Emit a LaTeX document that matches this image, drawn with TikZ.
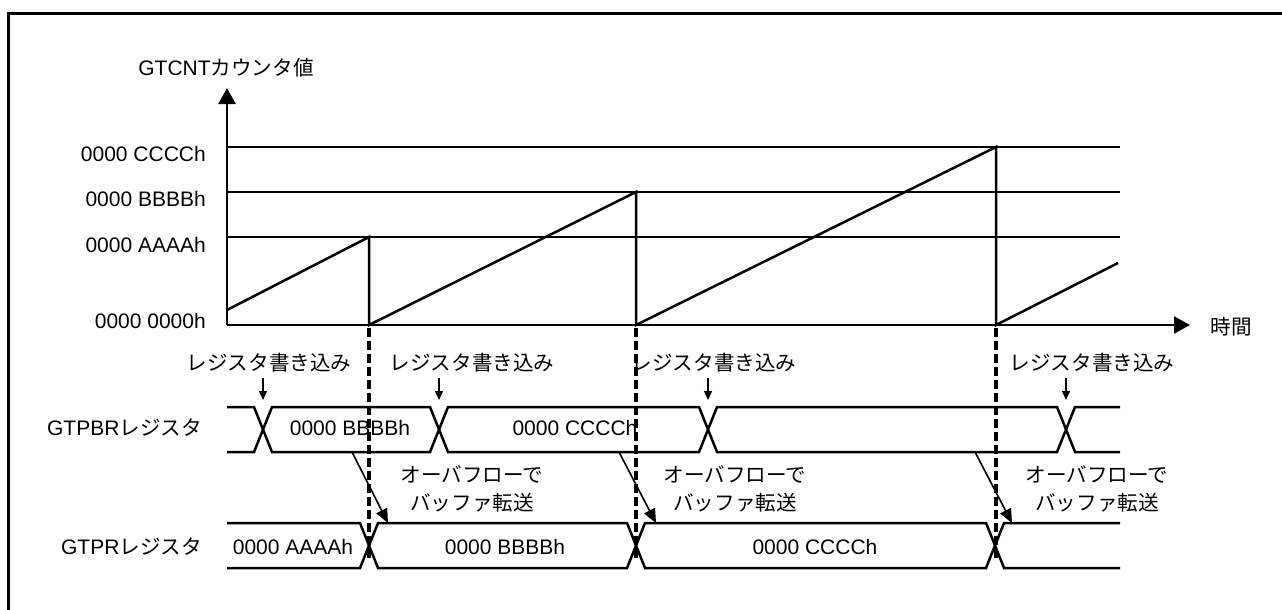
\documentclass[tikz,border=0pt]{standalone}
\usepackage{fontspec}
\setmainfont{Liberation Sans}
\newfontfamily\jpf[Scale=0.98]{Noto Sans CJK JP}
\newcommand{\jp}[1]{{\jpf #1}}
\usetikzlibrary{arrows.meta}
\begin{document}
\begin{tikzpicture}[x=1pt,y=-1pt,
  every node/.style={inner sep=0pt, font=\fontsize{21}{28}\selectfont},
  ln/.style={line width=2.5pt},
  axisarrow/.style={ln, -{Triangle[length=16pt,width=17pt]}},
  dashv/.style={line width=3.2pt, dash pattern=on 9pt off 4pt},
  wrarrow/.style={line width=1.5pt, -{Triangle[length=9pt,width=8pt]}},
  xfer/.style={line width=1.6pt, -{Triangle[length=14pt,width=12pt]}},
  lbl/.style={anchor=east},
  xlbl/.style={align=center}
]
\useasboundingbox (0,0) rectangle (1282,610);
% frame
\draw[line width=2.8pt] (8.5,610) -- (8.5,13.5) -- (1282,13.5);

% axes
\coordinate (O) at (227,325);
\coordinate (ytop) at (227,88);
\coordinate (xend) at (1190,325);
\draw[axisarrow] (O) -- (ytop);
\draw[axisarrow] (O) -- (xend);
\node (title) at (226,68) {GTCNT\jp{カウンタ値}};
\node (time) at (1231,327) {\jp{時間}};

% level lines
\coordinate (c0) at (227,147); \coordinate (c1) at (1120,147);
\coordinate (b0) at (227,192); \coordinate (b1) at (1120,192);
\coordinate (a0) at (227,237); \coordinate (a1) at (1120,237);
\draw[ln] (c0) -- (c1);
\draw[ln] (b0) -- (b1);
\draw[ln] (a0) -- (a1);
\node[lbl] (lc) at (206,154) {0000 CCCCh};
\node[lbl] (lb) at (206,199) {0000 BBBBh};
\node[lbl] (la) at (206,245) {0000 AAAAh};
\node[lbl] (lz) at (206,321) {0000 0000h};

% sawtooth
\draw[ln] (227,310) -- (369,237) -- (369,325) -- (636,192) -- (636,325)
  -- (996,147) -- (996,325) -- (1118,263);

% dashed overflow markers
\coordinate (d1a) at (369,328); \coordinate (d1b) at (369,560);
\coordinate (d2a) at (636,328); \coordinate (d2b) at (636,560);
\coordinate (d3a) at (996,328); \coordinate (d3b) at (996,560);
\draw[dashv] (d1a) -- (d1b);
\draw[dashv] (d2a) -- (d2b);
\draw[dashv] (d3a) -- (d3b);

% GTPBR bus
\draw[ln] (227,407) -- (254,407) -- (272,452) -- (430,452) -- (448,407) -- (699,407)
  -- (717,452) -- (1057,452) -- (1075,407) -- (1120,407);
\draw[ln] (227,452) -- (254,452) -- (272,407) -- (430,407) -- (448,452) -- (699,452)
  -- (717,407) -- (1057,407) -- (1075,452) -- (1120,452);
\node[lbl] (pbr) at (202,428) {GTPBR\jp{レジスタ}};
\node (pbrB) at (350,428) {0000 BBBBh};
\node (pbrC) at (575,428) {0000 CCCCh};

% GTPR bus
\draw[ln] (227,523) -- (360,523) -- (378,568) -- (627,568) -- (645,523) -- (986,523)
  -- (1004,568) -- (1120,568);
\draw[ln] (227,568) -- (360,568) -- (378,523) -- (627,523) -- (645,568) -- (986,568)
  -- (1004,523) -- (1120,523);
\node[lbl] (pr) at (202,547) {GTPR\jp{レジスタ}};
\node (prA) at (293,547) {0000 AAAAh};
\node (prB) at (505,547) {0000 BBBBh};
\node (prC) at (815,547) {0000 CCCCh};

% register write labels
\node (w1) at (269,363) {\jp{レジスタ書き込み}};
\node (w2) at (472,363) {\jp{レジスタ書き込み}};
\node (w3) at (714,363) {\jp{レジスタ書き込み}};
\node (w4) at (1092,363) {\jp{レジスタ書き込み}};
\coordinate (w1s) at (263,378); \coordinate (w1e) at (263,400);
\coordinate (w2s) at (439,378); \coordinate (w2e) at (439,400);
\coordinate (w3s) at (708,378); \coordinate (w3e) at (708,400);
\coordinate (w4s) at (1066,378); \coordinate (w4e) at (1066,400);
\draw[wrarrow] (w1s) -- (w1e);
\draw[wrarrow] (w2s) -- (w2e);
\draw[wrarrow] (w3s) -- (w3e);
\draw[wrarrow] (w4s) -- (w4e);

% buffer transfer
\coordinate (t1s) at (352,452); \coordinate (t1e) at (388,523);
\coordinate (t2s) at (619,452); \coordinate (t2e) at (656,523);
\coordinate (t3s) at (975,452); \coordinate (t3e) at (1012,523);
\draw[xfer] (t1s) -- (t1e);
\draw[xfer] (t2s) -- (t2e);
\draw[xfer] (t3s) -- (t3e);
\node[xlbl] (x1) at (472,489) {\jp{オーバフローで}\\\jp{バッファ転送}};
\node[xlbl] (x2) at (735,489) {\jp{オーバフローで}\\\jp{バッファ転送}};
\node[xlbl] (x3) at (1097,489) {\jp{オーバフローで}\\\jp{バッファ転送}};
\end{tikzpicture}
\end{document}
